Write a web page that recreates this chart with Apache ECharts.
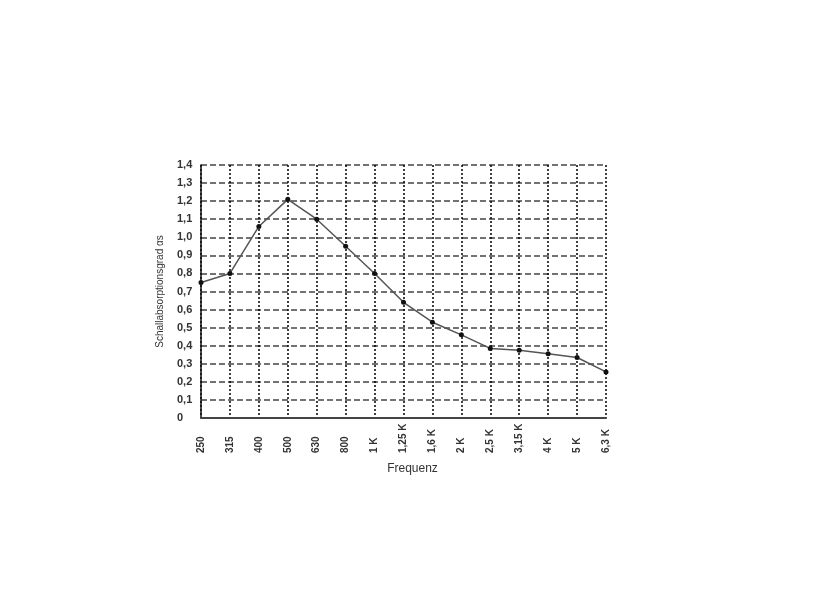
<!DOCTYPE html>
<html>
<head>
<meta charset="utf-8">
<script src="https://cdn.jsdelivr.net/npm/echarts@6/dist/echarts.min.js"></script>
<style>html,body{margin:0;padding:0;background:#fff;}#c{width:840px;height:600px;}</style>
</head>
<body>
<div id="c"></div>
<script>
const categories = ['250','315','400','500','630','800','1 K','1,25 K','1,6 K','2 K','2,5 K','3,15 K','4 K','5 K','6,3 K'];
const absorption = [0.75,0.80,1.06,1.21,1.10,0.95,0.80,0.64,0.53,0.46,0.385,0.375,0.355,0.335,0.255];
const xAxisTitle = 'Frequenz';
const yAxisTitle = 'Schallabsorptionsgrad αs';
const yMin = 0, yMax = 1.4, yStep = 0.1;

const chart = echarts.init(document.getElementById('c'), null, {renderer:'canvas'});
chart.setOption({
  animation:false,
  backgroundColor:'#fff',
  grid:{left:201,right:234,top:165,bottom:182,containLabel:false},
  xAxis:{
    type:'category',
    data:categories,
    boundaryGap:false,
    name:xAxisTitle,
    nameLocation:'middle',
    nameGap:45,
    nameTextStyle:{fontFamily:'Liberation Sans, Arial',fontSize:12,color:'#333',padding:[0,0,0,18]},
    axisLine:{show:true,lineStyle:{color:'#444',width:2}},
    axisTick:{show:false},
    axisLabel:{rotate:90,align:'left',verticalAlign:'middle',margin:35,interval:0,
      fontFamily:'Liberation Sans, Arial',fontSize:10,fontWeight:'bold',color:'#333'},
    splitLine:{show:true,interval:0,lineStyle:{color:'#000',type:[2,2],width:1.5}}
  },
  yAxis:{
    type:'value',
    min:yMin,max:yMax,interval:yStep,
    name:yAxisTitle,
    nameLocation:'middle',
    nameGap:36,
    nameRotate:90,
    nameTextStyle:{fontFamily:'Liberation Sans, Arial',fontSize:10,color:'#333'},
    axisLine:{show:true,lineStyle:{color:'#111',width:1.5}},
    axisTick:{show:false},
    axisLabel:{align:'left',margin:24,fontFamily:'Liberation Sans, Arial',fontSize:11,fontWeight:'bold',color:'#333',
      formatter:function(v){ return Math.abs(v)<1e-9 ? '0' : v.toFixed(1).replace('.',','); }},
    splitLine:{show:true,lineStyle:{color:'#444',type:[6,3],width:1.5}}
  },
  series:[{
    type:'line',
    data:absorption,
    symbol:'circle',
    symbolSize:5,
    itemStyle:{color:'#111'},
    lineStyle:{color:'#555',width:1.5},
    z:5
  }]
});
</script>
</body>
</html>
